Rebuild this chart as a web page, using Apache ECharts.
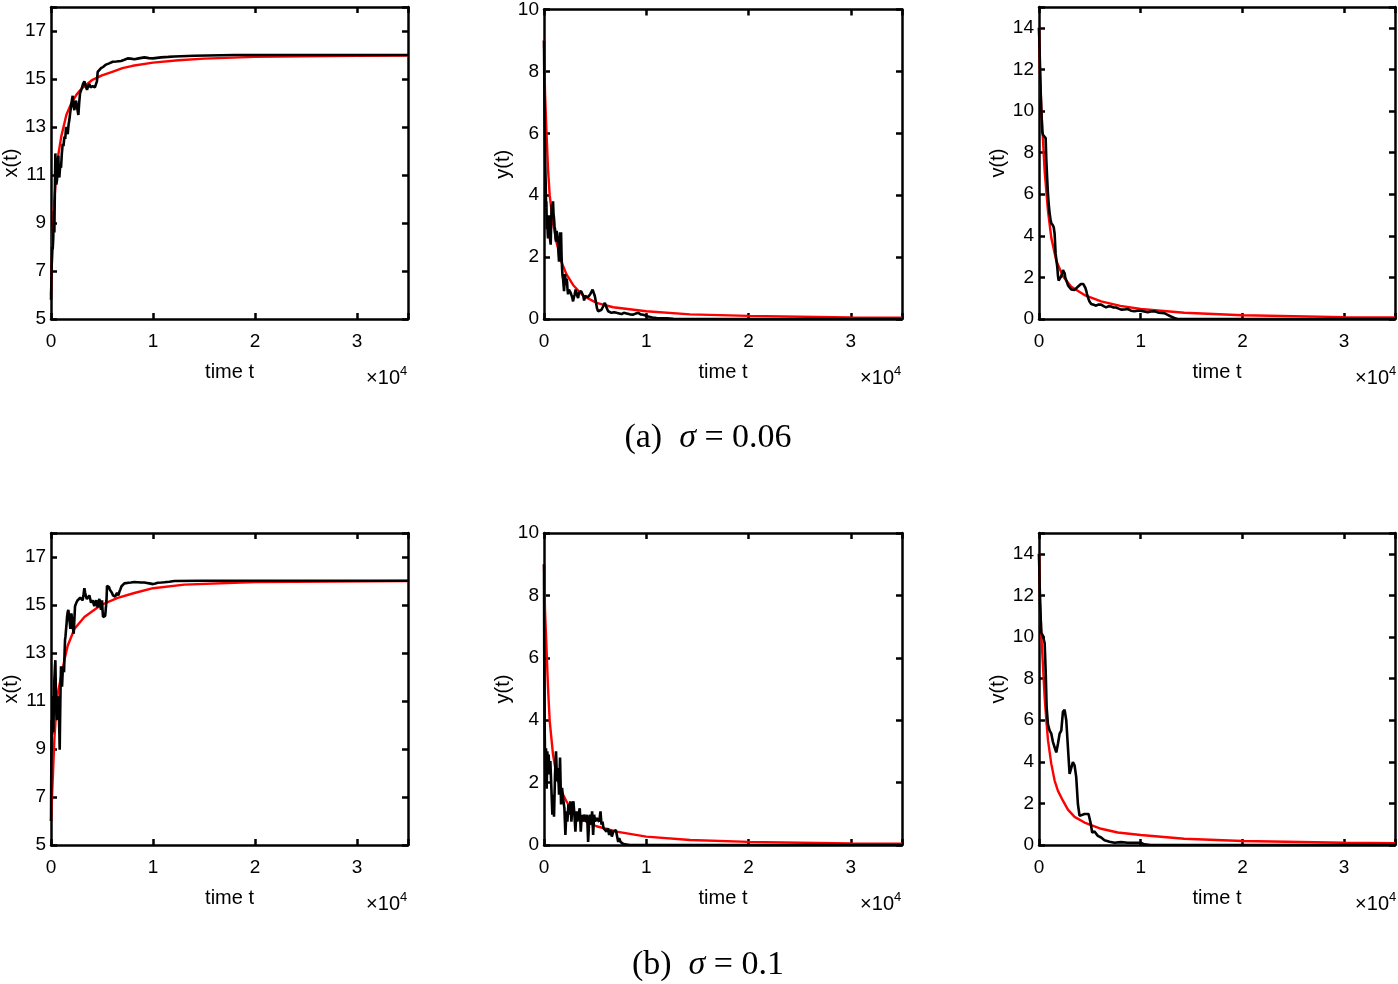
<!DOCTYPE html>
<html>
<head>
<meta charset="utf-8">
<script src="https://cdn.jsdelivr.net/npm/echarts@6/dist/echarts.min.js"></script>
<style>html,body{margin:0;padding:0;background:#fff}#c{width:1398px;height:984px}</style>
</head>
<body>
<div id="c"></div>
<script>
// ---------- DATA (t in raw time units; axis shows t / 10^4) ----------
const xTickLabels = ['0', '1', '2', '3'];
const panelNames = ['x(t)', 'y(t)', 'v(t)'];
const captions = ['(a)', '(b)'];
const sigmas = ['0.06', '0.1'];

// (a) sigma = 0.06
const xRedA = [[0,6.0],[100,7.6],[200,8.9],[300,9.8],[500,11.0],[700,11.8],[1000,12.6],[1500,13.5],[2000,14.0],[2500,14.35],[3000,14.6],[4000,14.95],[5000,15.15],[6000,15.3],[7000,15.45],[8000,15.55],[10000,15.68],[12500,15.78],[15000,15.85],[20000,15.92],[25000,15.95],[30000,15.97],[35000,15.98]];
const xBlackA = [[0,5.8],[60,7.2],[120,8.0],[163,7.9],[220,8.4],[280,9.5],[327,8.6],[380,10.5],[425,11.9],[470,11.2],[520,10.6],[588,10.8],[650,11.5],[719,11.8],[770,11.0],[817,10.9],[900,11.4],[980,11.3],[1060,11.9],[1144,12.3],[1220,12.2],[1307,12.6],[1390,12.5],[1471,13.0],[1550,12.9],[1634,12.7],[1720,13.1],[1797,13.3],[1880,13.6],[1961,13.85],[2040,14.1],[2124,14.3],[2200,13.9],[2288,13.7],[2370,14.0],[2451,14.1],[2560,13.8],[2680,13.5],[2760,14.0],[2843,14.4],[2920,14.5],[3007,14.6],[3140,14.8],[3268,14.9],[3400,14.7],[3529,14.55],[3640,14.7],[3758,14.8],[3870,14.65],[3987,14.6],[4080,14.7],[4183,14.75],[4300,14.65],[4412,14.6],[4500,14.9],[4575,15.3],[4700,15.35],[4902,15.45],[5100,15.5],[5392,15.6],[5700,15.65],[6046,15.72],[6400,15.73],[6863,15.75],[7200,15.8],[7516,15.86],[7800,15.85],[8170,15.82],[8600,15.86],[9150,15.9],[9600,15.87],[10000,15.86],[10784,15.9],[11500,15.92],[12092,15.94],[14052,15.97],[17974,16.0],[35000,16.0]];
const yRedA = [[0,9.0],[100,7.3],[229,6.15],[392,4.85],[556,4.0],[882,3.1],[1209,2.5],[1699,1.85],[2190,1.45],[2843,1.1],[3824,0.75],[5131,0.52],[6765,0.38],[10000,0.25],[14281,0.15],[20000,0.1],[30000,0.05],[35000,0.04]];
const yBlackA = [[0,9.0],[60,6.5],[120,5.0],[163,4.4],[200,3.6],[229,3.8],[280,2.9],[327,3.25],[360,2.8],[392,2.6],[440,3.0],[490,3.35],[520,2.9],[556,2.7],[600,2.55],[654,2.4],[700,3.1],[752,3.7],[800,3.5],[882,3.8],[930,3.4],[980,3.25],[1030,3.0],[1078,2.9],[1130,2.6],[1176,2.5],[1230,2.85],[1275,2.8],[1320,2.6],[1373,2.5],[1420,2.1],[1471,1.85],[1520,2.4],[1569,2.8],[1620,2.6],[1667,2.8],[1720,2.0],[1765,1.65],[1810,1.4],[1863,1.3],[1910,1.1],[1961,0.9],[2010,1.2],[2059,1.45],[2110,1.2],[2157,1.1],[2200,1.3],[2255,1.2],[2300,0.95],[2353,0.8],[2430,0.95],[2516,1.0],[2600,0.85],[2680,0.9],[2760,0.7],[2843,0.57],[2920,0.7],[3007,0.8],[3090,0.95],[3170,0.9],[3250,0.75],[3333,0.68],[3420,0.85],[3497,0.8],[3620,0.9],[3758,0.95],[3840,0.75],[3922,0.6],[4030,0.75],[4150,0.8],[4280,0.7],[4412,0.68],[4520,0.8],[4641,0.85],[4750,0.95],[4869,0.9],[4960,0.75],[5065,0.57],[5180,0.35],[5294,0.25],[5450,0.28],[5621,0.3],[5800,0.42],[5948,0.52],[6100,0.38],[6275,0.25],[6450,0.22],[6601,0.2],[6850,0.22],[7092,0.2],[7350,0.18],[7582,0.16],[7800,0.2],[8072,0.18],[8400,0.15],[8725,0.14],[9000,0.18],[9216,0.2],[9450,0.15],[9706,0.14],[10196,0.08],[10600,0.05],[11013,0.03],[12000,0.02],[12647,0.01],[14000,0],[35000,0]];
const vRedA = [[0,14.0],[100,11.8],[229,10.05],[392,8.6],[556,7.1],[882,5.2],[1209,3.9],[1699,2.8],[2353,2.05],[3170,1.55],[4477,1.15],[6111,0.85],[8000,0.63],[10000,0.48],[14281,0.3],[20000,0.18],[30000,0.09],[35000,0.07]];
const vBlackA = [[0,14.0],[80,12.5],[160,11.0],[250,9.8],[320,9.0],[392,8.85],[520,8.8],[654,8.7],[719,7.65],[800,6.8],[882,6.0],[960,5.5],[1046,5.07],[1130,4.8],[1209,4.6],[1300,4.55],[1373,4.5],[1450,4.4],[1536,4.1],[1634,3.14],[1720,2.8],[1797,2.5],[1860,2.1],[1928,1.85],[2000,1.9],[2092,1.93],[2180,2.05],[2255,2.17],[2360,2.35],[2451,2.4],[2520,2.2],[2582,2.0],[2650,1.9],[2745,1.77],[2870,1.6],[3007,1.53],[3170,1.42],[3333,1.37],[3500,1.4],[3660,1.45],[3820,1.55],[3987,1.6],[4120,1.68],[4248,1.7],[4360,1.68],[4477,1.6],[4560,1.5],[4641,1.37],[4720,1.2],[4804,1.05],[4950,0.85],[5131,0.72],[5380,0.68],[5621,0.64],[5860,0.7],[6111,0.69],[6350,0.62],[6601,0.56],[6850,0.62],[7092,0.6],[7340,0.55],[7582,0.55],[7830,0.5],[8072,0.45],[8400,0.46],[8725,0.48],[9050,0.4],[9379,0.37],[9690,0.4],[10000,0.4],[10350,0.36],[10686,0.32],[11000,0.36],[11340,0.37],[11800,0.3],[12320,0.28],[12650,0.2],[12974,0.12],[13300,0.05],[13627,0],[35000,0]];

// (b) sigma = 0.1
const xRedB = [[0,6.0],[163,7.7],[327,9.4],[490,10.5],[654,11.3],[980,12.0],[1307,12.7],[1634,13.3],[2288,14.0],[3268,14.5],[4902,15.0],[6536,15.3],[8170,15.5],[10000,15.7],[13072,15.85],[20000,15.96],[35000,16.0]];
const xBlackB = [[0,6.0],[30,8.5],[65,10.2],[110,9.6],[163,11.2],[200,10.3],[229,9.7],[280,11.0],[327,11.9],[380,12.4],[425,12.7],[460,11.8],[490,10.9],[540,10.4],[588,10.2],[620,10.6],[654,10.5],[700,10.9],[752,11.2],[800,10.0],[850,8.97],[880,10.0],[915,11.05],[950,11.9],[980,12.45],[1030,12.0],[1078,11.6],[1130,12.1],[1176,12.45],[1230,12.3],[1275,12.2],[1320,12.9],[1373,13.55],[1420,13.7],[1471,13.97],[1520,14.2],[1569,14.5],[1630,14.7],[1699,14.8],[1750,14.6],[1797,14.4],[1850,14.2],[1895,14.0],[1950,14.3],[1993,14.65],[2040,14.5],[2092,14.25],[2160,14.0],[2222,13.8],[2290,14.4],[2353,14.95],[2420,15.0],[2484,15.1],[2550,15.05],[2614,15.2],[2700,15.25],[2778,15.15],[2860,15.3],[2941,15.35],[3020,15.25],[3105,15.2],[3190,15.45],[3268,15.7],[3350,15.5],[3431,15.35],[3510,15.25],[3595,15.2],[3680,15.3],[3758,15.4],[3840,15.25],[3922,15.1],[4000,15.15],[4085,15.2],[4170,15.05],[4248,14.95],[4330,15.1],[4412,15.2],[4490,15.05],[4575,14.9],[4660,15.15],[4739,15.25],[4820,15.0],[4902,14.8],[4950,15.0],[5000,15.2],[5050,14.8],[5098,14.5],[5160,14.5],[5229,14.45],[5310,14.55],[5392,14.5],[5440,15.2],[5490,15.8],[5560,15.85],[5621,15.85],[5690,15.75],[5752,15.65],[5820,15.6],[5882,15.6],[5980,15.5],[6078,15.4],[6180,15.38],[6275,15.35],[6380,15.42],[6471,15.5],[6540,15.42],[6601,15.4],[6700,15.55],[6797,15.65],[6910,15.78],[7026,15.85],[7190,15.9],[7353,15.95],[7600,15.93],[7843,15.94],[8170,15.96],[8497,15.95],[8820,15.94],[9150,15.94],[9400,15.92],[9641,15.9],[9820,15.88],[10000,15.87],[10230,15.9],[10458,15.93],[10800,15.94],[11111,15.95],[11600,15.97],[12092,16.0],[14706,16.01],[35000,16.01]];
const yRedB = [[0,9.0],[100,7.5],[229,6.45],[392,5.05],[556,3.98],[882,2.9],[1209,2.26],[1699,1.72],[2190,1.4],[2843,1.08],[3824,0.8],[5131,0.6],[7092,0.43],[10000,0.27],[14281,0.16],[20000,0.1],[30000,0.05],[35000,0.04]];
const yBlackB = [[0,9.0],[30,5.5],[65,3.76],[131,2.04],[196,3.1],[261,1.8],[327,3.0],[392,2.47],[458,2.9],[523,2.26],[621,2.69],[719,1.83],[817,0.97],[882,1.61],[980,0.91],[1078,2.26],[1176,3.0],[1275,2.04],[1373,2.47],[1471,1.61],[1569,2.8],[1667,1.3],[1765,1.83],[1863,1.5],[1993,1.18],[2092,0.32],[2190,1.08],[2288,0.75],[2386,1.3],[2484,0.97],[2582,1.4],[2680,0.75],[2778,1.3],[2876,1.4],[2974,0.97],[3072,0.43],[3170,1.08],[3268,0.75],[3366,0.97],[3497,1.18],[3595,0.43],[3693,0.97],[3791,0.75],[3922,0.97],[4020,1.02],[4118,0.75],[4216,0.97],[4314,0.1],[4412,0.75],[4510,0.97],[4608,0.65],[4706,1.08],[4804,0.32],[4902,0.97],[5000,0.75],[5131,0.86],[5261,0.91],[5392,0.75],[5523,1.08],[5621,0.65],[5719,0.75],[5817,0.54],[5948,0.48],[6111,0.43],[6242,0.54],[6373,0.32],[6503,0.48],[6634,0.27],[6765,0.43],[6895,0.38],[7026,0.48],[7157,0.43],[7255,0.1],[7353,0.22],[7484,0.1],[7680,0.05],[7908,0.02],[8399,0],[35000,0]];
const vRedB = [[0,14.0],[100,12.0],[229,10.05],[392,8.6],[556,7.1],[719,6.0],[882,5.04],[1209,3.9],[1536,3.1],[1863,2.6],[2353,2.13],[2843,1.7],[3497,1.35],[4477,1.08],[6111,0.78],[7745,0.6],[10000,0.48],[14281,0.3],[20000,0.19],[30000,0.11],[35000,0.09]];
const vBlackB = [[0,14.0],[98,11.66],[229,10.2],[392,10.05],[556,9.7],[654,8.4],[752,6.6],[882,5.8],[1046,5.5],[1209,5.35],[1373,4.95],[1536,4.7],[1699,4.45],[1863,4.87],[2026,5.35],[2190,5.5],[2353,6.4],[2516,6.5],[2680,6.0],[2843,4.7],[3007,3.42],[3170,3.5],[3333,3.98],[3497,3.83],[3660,3.26],[3824,1.97],[3987,1.4],[4150,1.32],[4477,1.49],[4641,1.45],[4869,1.49],[5065,1.08],[5229,0.6],[5458,0.65],[5784,0.44],[6111,0.36],[6438,0.23],[6928,0.16],[7418,0.11],[8072,0.14],[8725,0.11],[9379,0.11],[10000,0.11],[10359,0.03],[11013,0],[35000,0]];

// per-panel y-axis ranges [min, max, interval]
const yRanges = [[5, 18, 2], [0, 10, 2], [0, 15, 2]];

// ---------- LAYOUT ----------
const FONT = "'Liberation Sans', Arial, Helvetica, sans-serif";
const SERIF = "'Liberation Serif', 'DejaVu Serif', serif";
const gridLefts = [50, 544, 1039];
const gridTops = [7, 533];
const GW = 358, GH = 312;

const redSets = [[xRedA, yRedA, vRedA], [xRedB, yRedB, vRedB]];
const blackSets = [[xBlackA, yBlackA, vBlackA], [xBlackB, yBlackB, vBlackB]];

const grids = [], xAxes = [], yAxes = [], series = [], graphics = [];
const lineCol = '#000';

for (let r = 0; r < 2; r++) {
  for (let c = 0; c < 3; c++) {
    const gi = grids.length;
    grids.push({left: gridLefts[c], top: gridTops[r], width: GW, height: GH, containLabel: false});
    const baseAx = {
      gridIndex: gi, type: 'value', min: 0, max: 35000, interval: 10000,
      axisLine: {show: true, onZero: false, lineStyle: {color: lineCol, width: 2.5}},
      axisTick: {show: true, inside: true, length: 6, lineStyle: {color: lineCol, width: 2.5}},
      splitLine: {show: false}
    };
    xAxes.push(Object.assign({}, baseAx, {
      position: 'bottom',
      axisLabel: {color: '#000', fontSize: 19, fontFamily: FONT, margin: 13,
        formatter: v => (v % 10000 === 0 ? xTickLabels[v / 10000] : '')},
      name: 'time t', nameLocation: 'middle', nameGap: 43,
      nameTextStyle: {color: '#000', fontSize: 20, fontFamily: FONT}
    }));
    xAxes.push(Object.assign({}, baseAx, {position: 'top', axisLabel: {show: false}}));
    const [mn, mx, iv] = yRanges[c];
    const baseY = {
      gridIndex: gi, type: 'value', min: mn, max: mx, interval: iv,
      axisLine: {show: true, onZero: false, lineStyle: {color: lineCol, width: 2.5}},
      axisTick: {show: true, inside: true, length: 6, lineStyle: {color: lineCol, width: 2.5}},
      splitLine: {show: false}
    };
    yAxes.push(Object.assign({}, baseY, {
      position: 'left',
      axisLabel: {color: '#000', fontSize: 19, fontFamily: FONT, margin: 5,
        formatter: v => ((v - mn) % iv === 0 ? String(v) : '')},
      name: panelNames[c], nameLocation: 'middle', nameGap: 30,
      nameTextStyle: {color: '#000', fontSize: 20, fontFamily: FONT}
    }));
    yAxes.push(Object.assign({}, baseY, {position: 'right', axisLabel: {show: false}}));
    const xi = gi * 2, yi = gi * 2;
    series.push({type: 'line', xAxisIndex: xi, yAxisIndex: yi, data: redSets[r][c],
      showSymbol: false, symbol: 'none', lineStyle: {color: '#ff0000', width: 2.4}, z: 2, silent: true});
    series.push({type: 'line', xAxisIndex: xi, yAxisIndex: yi, data: blackSets[r][c],
      showSymbol: false, symbol: 'none', lineStyle: {color: '#000', width: 2.6}, z: 3, silent: true});
    // x10^4 multiplier
    const rightX = gridLefts[c] + GW;
    const baseY0 = gridTops[r] + GH;
    graphics.push({type: 'text', x: rightX - 8, y: baseY0 + 69, style: {text: '×10', fill: '#000',
      font: '20px ' + FONT, align: 'right', verticalAlign: 'bottom'}});
    graphics.push({type: 'text', x: rightX - 8, y: baseY0 + 46, style: {text: '4', fill: '#000',
      font: '13px ' + FONT, align: 'left', verticalAlign: 'top'}});
  }
  graphics.push({type: 'text', x: 708, y: r === 0 ? 438 : 965, style: {
    text: '{n|' + captions[r] + '  }{i|σ}{n| = ' + sigmas[r] + '}',
    align: 'center', verticalAlign: 'middle',
    rich: {
      n: {fontFamily: SERIF, fontSize: 34, fill: '#000'},
      i: {fontFamily: SERIF, fontSize: 34, fontStyle: 'italic', fill: '#000'}
    }
  }});
}

const chart = echarts.init(document.getElementById('c'), null, {renderer: 'canvas'});
chart.setOption({
  animation: false,
  backgroundColor: '#fff',
  grid: grids, xAxis: xAxes, yAxis: yAxes, series: series, graphic: graphics
});
</script>
</body>
</html>
